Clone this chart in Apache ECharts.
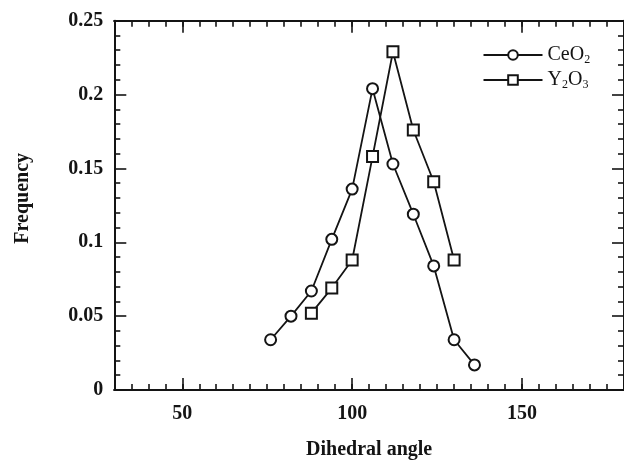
<!DOCTYPE html>
<html>
<head>
<meta charset="utf-8">
<title>Dihedral angle distribution</title>
<script src="https://cdn.jsdelivr.net/npm/echarts@6/dist/echarts.min.js"></script>
<style>
  html, body { margin: 0; padding: 0; background: #fff; }
  #chart { width: 624px; height: 465px; }
</style>
</head>
<body>
<div id="chart"></div>
<script>
// Measured dihedral-angle frequency distributions
const ceo2Angles = [76, 82, 88, 94, 100, 106, 112, 118, 124, 130, 136];
const ceo2Freq   = [0.034, 0.050, 0.067, 0.102, 0.136, 0.204, 0.153, 0.119, 0.084, 0.034, 0.017];
const y2o3Angles = [88, 94, 100, 106, 112, 118, 124, 130];
const y2o3Freq   = [0.052, 0.069, 0.088, 0.158, 0.229, 0.176, 0.141, 0.088];

// Axis ranges and tick positions
const xMin = 30, xMax = 180;
const xMajor = [50, 100, 150];
const xMinor = [];
for (let v = xMin; v <= xMax; v += 5) xMinor.push(v);
const yMin = 0, yMax = 0.25, yStep = 0.05;

const seriesNames = ['CeO2', 'Y2O3'];
const legendText = {
  'CeO2': 'CeO{sub|2}',
  'Y2O3': 'Y{sub|2}O{sub|3}'
};

const ink = '#141414';
const serif = '"Liberation Serif", "Times New Roman", serif';

function pairs(xs, ys) { return xs.map((x, i) => [x, ys[i]]); }

function xAxisDef(position, ticks, len, withLabels) {
  return {
    type: 'value', position: position, min: xMin, max: xMax,
    splitLine: { show: false },
    axisLine: { show: true, lineStyle: { color: ink, width: 2 } },
    axisTick: { show: true, inside: true, length: len, customValues: ticks,
                lineStyle: { color: ink, width: 1.6 } },
    axisLabel: withLabels ? {
      show: true, customValues: xMajor, margin: 14,
      fontFamily: serif, fontWeight: 'bold', fontSize: 20, color: ink
    } : { show: false }
  };
}

const chart = echarts.init(document.getElementById('chart'), null, { renderer: 'canvas' });

chart.setOption({
  backgroundColor: '#ffffff',
  animation: false,
  grid: { left: 114.3, right: -4.6, top: 20.7, bottom: 70.7 },
  legend: {
    data: seriesNames,
    orient: 'vertical',
    left: 482.5, top: 44, padding: 0,
    itemWidth: 59, itemHeight: 12, itemGap: 3,
    formatter: name => legendText[name],
    textStyle: {
      fontFamily: serif, fontSize: 20, color: ink, lineHeight: 22,
      rich: { sub: { fontSize: 12, fontFamily: serif, color: ink, verticalAlign: 'bottom', lineHeight: 22 } }
    }
  },
  xAxis: [
    Object.assign(xAxisDef('bottom', xMajor, 12, true), {
      name: 'Dihedral angle', nameLocation: 'middle', nameGap: 50,
      nameTextStyle: { fontFamily: serif, fontWeight: 'bold', fontSize: 20, color: ink }
    }),
    xAxisDef('bottom', xMinor, 6, false),
    xAxisDef('top', xMajor, 12, false),
    xAxisDef('top', xMinor, 6, false)
  ],
  yAxis: [
    {
      type: 'value', position: 'left', min: yMin, max: yMax, interval: yStep,
      name: 'Frequency', nameLocation: 'middle', nameGap: 81, nameRotate: 90,
      nameTextStyle: { fontFamily: serif, fontWeight: 'bold', fontSize: 20, color: ink, padding: [0, 0, 0, 14] },
      splitLine: { show: false },
      axisLine: { show: true, lineStyle: { color: ink, width: 2 } },
      axisTick: { show: true, inside: true, length: 12, lineStyle: { color: ink, width: 1.6 } },
      minorTick: { show: true, splitNumber: 5, length: 6, lineStyle: { color: ink, width: 1.6 } },
      axisLabel: { margin: 11, fontFamily: serif, fontWeight: 'bold', fontSize: 20, color: ink }
    },
    {
      type: 'value', position: 'right', min: yMin, max: yMax, interval: yStep,
      splitLine: { show: false },
      axisLine: { show: true, lineStyle: { color: ink, width: 2 } },
      axisTick: { show: true, inside: true, length: 12, lineStyle: { color: ink, width: 1.6 } },
      minorTick: { show: true, splitNumber: 5, length: 6, lineStyle: { color: ink, width: 1.6 } },
      axisLabel: { show: false }
    }
  ],
  series: [
    {
      name: seriesNames[0], type: 'line', xAxisIndex: 0, yAxisIndex: 0,
      data: pairs(ceo2Angles, ceo2Freq),
      symbol: 'emptyCircle', symbolSize: 11,
      lineStyle: { color: ink, width: 1.8 },
      itemStyle: { color: ink, borderColor: ink, borderWidth: 1.8 }
    },
    {
      name: seriesNames[1], type: 'line', xAxisIndex: 0, yAxisIndex: 0,
      data: pairs(y2o3Angles, y2o3Freq),
      symbol: 'emptyRect', symbolSize: 11,
      lineStyle: { color: ink, width: 1.8 },
      itemStyle: { color: ink, borderColor: ink, borderWidth: 1.8 }
    }
  ]
});
</script>
</body>
</html>
